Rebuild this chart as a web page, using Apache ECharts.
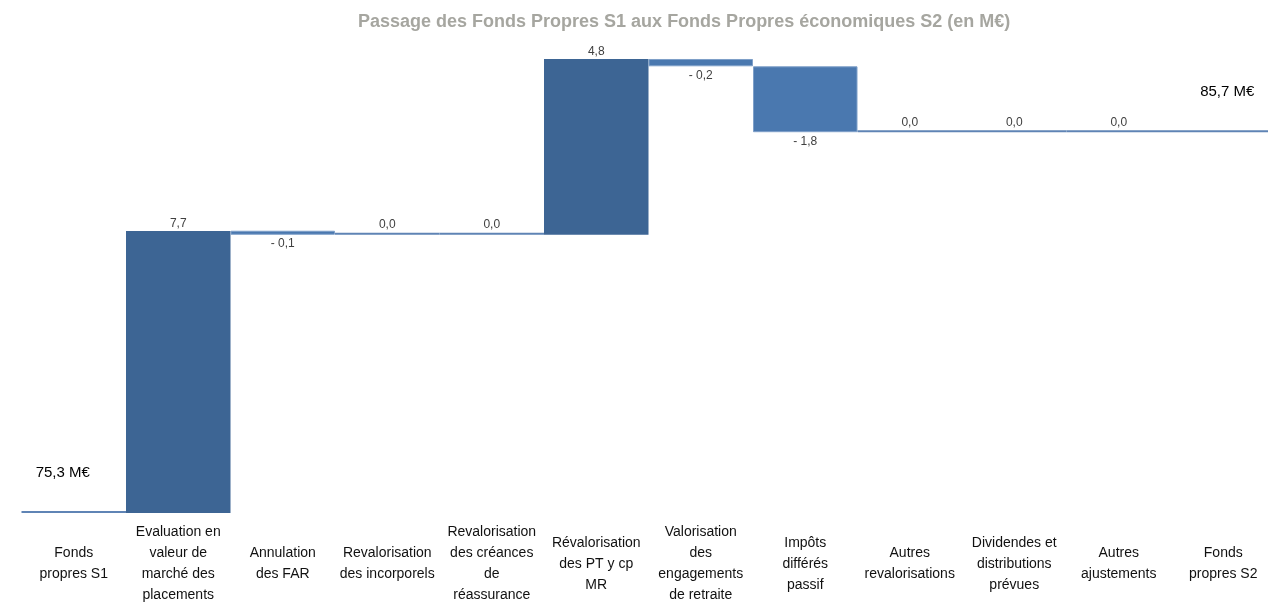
<!DOCTYPE html>
<html>
<head>
<meta charset="utf-8">
<script src="https://cdn.jsdelivr.net/npm/echarts@6/dist/echarts.min.js"></script>
<style>
  html, body { margin: 0; padding: 0; background: #fff; }
  #chart { width: 1268px; height: 602px; }
</style>
</head>
<body>
<div id="chart"></div>
<script>
// catégories (axe X)
const categories = [
  'Fonds\npropres S1',
  'Evaluation en\nvaleur de\nmarché des\nplacements',
  'Annulation\ndes FAR',
  'Revalorisation\ndes incorporels',
  'Revalorisation\ndes créances\nde\nréassurance',
  'Révalorisation\ndes PT y cp\nMR',
  'Valorisation\ndes\nengagements\nde retraite',
  'Impôts\ndifférés\npassif',
  'Autres\nrevalorisations',
  'Dividendes et\ndistributions\nprévues',
  'Autres\najustements',
  'Fonds\npropres S2'
];
// variations (M€), null pour les totaux
const deltas = [null, 7.7, -0.1, 0.0, 0.0, 4.8, -0.2, -1.8, 0.0, 0.0, 0.0, null];
const startTotal = 75.3;
const endTotal = 85.7;

const fmt = (v) => v.toFixed(1).replace('.', ',');

// construction du waterfall
const base = [], up = [], down = [], flat = [];
let running = startTotal;
deltas.forEach((d, i) => {
  if (d === null) {
    const t = i === 0 ? startTotal : endTotal;
    base.push(t);
    up.push('-');
    down.push('-');
    flat.push({
      value: 0,
      label: { formatter: fmt(t) + ' M€', fontSize: 15, color: '#000', distance: 31, offset: i === 0 ? [-11, 0] : [4, 0] }
    });
  } else if (d > 0) {
    base.push(running);
    up.push(d);
    down.push('-');
    flat.push('-');
    running += d;
  } else if (d < 0) {
    running += d;
    base.push(running);
    up.push('-');
    down.push(-d);
    flat.push('-');
  } else {
    base.push(running);
    up.push('-');
    down.push('-');
    flat.push(0);
  }
});

const chart = echarts.init(document.getElementById('chart'));

const option = {
  animation: false,
  title: {
    text: 'Passage des Fonds Propres S1 aux Fonds Propres économiques S2 (en M€)',
    left: 353,
    top: 8,
    textStyle: {
      fontFamily: 'Liberation Sans',
      fontSize: 18,
      fontWeight: 'bold',
      color: '#a6a6a0'
    }
  },
  grid: { left: 21.5, width: 1254, top: 48, height: 476, outerBoundsMode: 'none' },
  xAxis: {
    type: 'category',
    data: categories,
    axisLine: { show: false },
    axisTick: { show: false },
    axisLabel: {
      interval: 0,
      margin: 40,
      verticalAlign: 'middle',
      fontFamily: 'Liberation Sans',
      fontSize: 14,
      lineHeight: 21,
      color: '#111'
    }
  },
  yAxis: {
    type: 'value',
    min: 75,
    max: 88,
    show: false,
    splitLine: { show: false }
  },
  series: [
    {
      name: 'base',
      type: 'bar',
      stack: 'wf',
      barWidth: '100%',
      itemStyle: { color: 'transparent' },
      data: base
    },
    {
      name: 'hausse',
      type: 'bar',
      stack: 'wf',
      barWidth: '100%',
      itemStyle: { color: '#3d6594' },
      label: {
        show: true,
        position: 'top',
        distance: 1,
        fontFamily: 'Liberation Sans',
        fontSize: 12,
        color: '#404040',
        formatter: (p) => fmt(p.value)
      },
      data: up
    },
    {
      name: 'baisse',
      type: 'bar',
      stack: 'wf',
      barWidth: '100%',
      barMinHeight: 4,
      itemStyle: { color: '#4a78af', borderColor: '#7fa0c9', borderWidth: 1 },
      label: {
        show: true,
        position: 'bottom',
        distance: 3,
        fontFamily: 'Liberation Sans',
        fontSize: 12,
        color: '#404040',
        formatter: (p) => '- ' + fmt(p.value)
      },
      data: down
    },
    {
      name: 'plat',
      type: 'bar',
      stack: 'wf',
      barWidth: '100%',
      barMinHeight: 2,
      itemStyle: { color: '#5f84b5' },
      label: {
        show: true,
        position: 'top',
        distance: 2,
        fontFamily: 'Liberation Sans',
        fontSize: 12,
        color: '#404040',
        formatter: (p) => fmt(p.value)
      },
      data: flat
    }
  ]
};

chart.setOption(option);
</script>
</body>
</html>
